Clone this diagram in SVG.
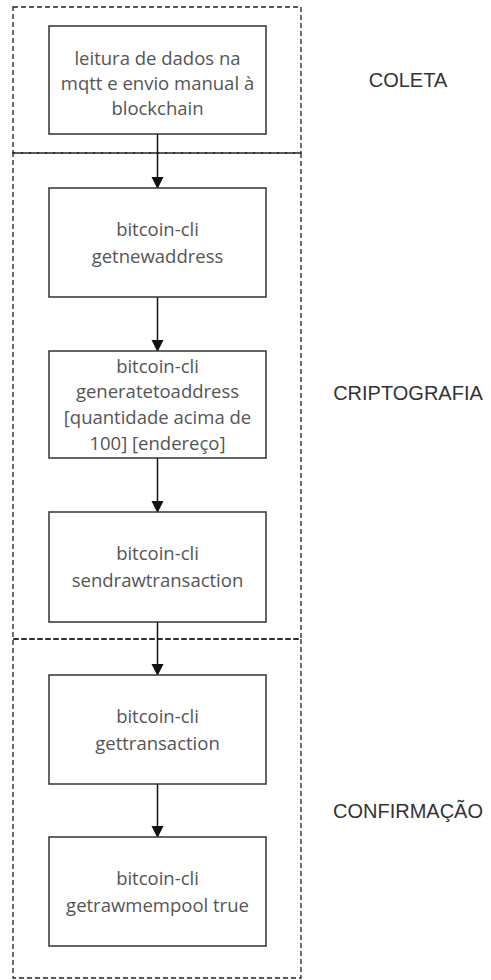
<svg xmlns="http://www.w3.org/2000/svg" width="491" height="980" viewBox="0 0 491 980">
<style>
.bg{fill:#ffffff}
.sec{fill:none;stroke:#222;stroke-width:1.3;stroke-dasharray:5 3}
.box{fill:#ffffff;stroke:#333;stroke-width:1.5}
.t{font-family:"Open Sans","Liberation Sans",sans-serif;font-size:18.5px;fill:#555;text-anchor:middle}
.lab{font-family:"Liberation Sans",Arial,sans-serif;font-size:20px;fill:#333;text-anchor:middle}
.edge{stroke:#111;stroke-width:1.5;fill:none}
</style>
<defs>
<marker id="arr" markerWidth="12" markerHeight="13" refX="11" refY="6" orient="auto" markerUnits="userSpaceOnUse" viewBox="0 0 12 12">
<path d="M0,0 L12,6 L0,12 Z" fill="#111"/>
</marker>
</defs>
<rect class="bg" x="0" y="0" width="491" height="980"/>
<g id="sections">
<rect id="sec-coleta" class="sec" x="13" y="7" width="288" height="146"/>
<rect id="sec-cripto" class="sec" x="13" y="153" width="288" height="486"/>
<rect id="sec-confirm" class="sec" x="13" y="639" width="288" height="339"/>
</g>
<g id="labels">
<text class="lab" x="408" y="87">COLETA</text>
<text class="lab" x="408" y="400">CRIPTOGRAFIA</text>
<text class="lab" x="408" y="818">CONFIRMAÇÃO</text>
</g>
<g id="connectors">
<line class="edge" x1="157.5" y1="134" x2="157.5" y2="188" marker-end="url(#arr)"/>
<line class="edge" x1="157.5" y1="297" x2="157.5" y2="351" marker-end="url(#arr)"/>
<line class="edge" x1="157.5" y1="458" x2="157.5" y2="512" marker-end="url(#arr)"/>
<line class="edge" x1="157.5" y1="622" x2="157.5" y2="675" marker-end="url(#arr)"/>
<line class="edge" x1="157.5" y1="784" x2="157.5" y2="837" marker-end="url(#arr)"/>
</g>
<g id="n1">
<rect class="box" x="49" y="26" width="217" height="108"/>
<text class="t" x="157.5" y="65">leitura de dados na</text>
<text class="t" x="157.5" y="90">mqtt e envio manual à</text>
<text class="t" x="157.5" y="115">blockchain</text>
</g>
<g id="n2">
<rect class="box" x="49" y="188" width="217" height="109"/>
<text class="t" x="157.5" y="236">bitcoin-cli</text>
<text class="t" x="157.5" y="263">getnewaddress</text>
</g>
<g id="n3">
<rect class="box" x="49" y="351" width="217" height="107"/>
<text class="t" x="157.5" y="373">bitcoin-cli</text>
<text class="t" x="157.5" y="398">generatetoaddress</text>
<text class="t" x="157.5" y="424">[quantidade acima de</text>
<text class="t" x="157.5" y="450">100] [endereço]</text>
</g>
<g id="n4">
<rect class="box" x="49" y="512" width="217" height="110"/>
<text class="t" x="157.5" y="560">bitcoin-cli</text>
<text class="t" x="157.5" y="587">sendrawtransaction</text>
</g>
<g id="n5">
<rect class="box" x="49" y="675" width="217" height="109"/>
<text class="t" x="157.5" y="723">bitcoin-cli</text>
<text class="t" x="157.5" y="750">gettransaction</text>
</g>
<g id="n6">
<rect class="box" x="49" y="837" width="217" height="109"/>
<text class="t" x="157.5" y="885">bitcoin-cli</text>
<text class="t" x="157.5" y="912">getrawmempool true</text>
</g>
</svg>
